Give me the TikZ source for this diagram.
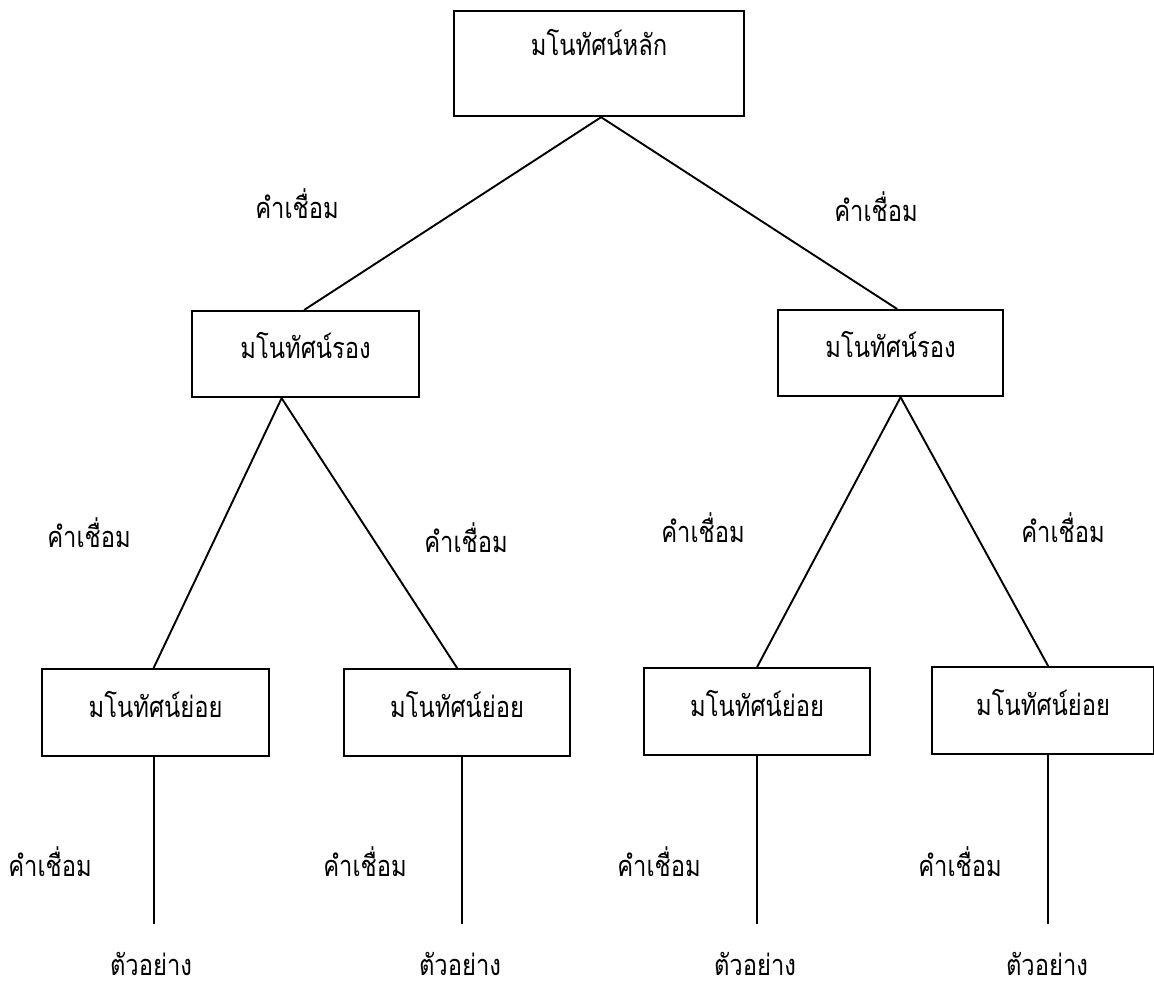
\documentclass[tikz,border=0pt]{standalone}
\usepackage{fontspec}
\newfontfamily\thai[Script=Thai,FakeStretch=0.82]{Loma}
\begin{document}
\begin{tikzpicture}[x=0.5pt,y=-0.5pt,
  box/.style={draw,line width=1.1pt,rectangle,anchor=north west,inner xsep=0pt,inner ysep=0pt,font=\thai\fontsize{14.5}{16}\selectfont},
  conn/.style={line width=0.95pt},
  lbl/.style={inner sep=0pt,font=\thai\fontsize{14.5}{16}\selectfont}]
\useasboundingbox[fill=white] (0,0) rectangle (1154,988);
% boxes
\node[box,minimum width=145pt,minimum height=52.5pt,text height=22pt,text depth=30.5pt] (top) at (453,10) {มโนทัศน์หลัก};
\node[box,minimum width=113.5pt,minimum height=43pt,text height=23.5pt,text depth=19.5pt] (midL) at (191,310) {มโนทัศน์รอง};
\node[box,minimum width=112.5pt,minimum height=43pt,text height=23.5pt,text depth=19.5pt] (midR) at (777,309) {มโนทัศน์รอง};
\node[box,minimum width=113.5pt,minimum height=43.5pt,text height=24pt,text depth=19.5pt] (b1) at (41,668) {มโนทัศน์ย่อย};
\node[box,minimum width=113pt,minimum height=43.5pt,text height=24pt,text depth=19.5pt] (b2) at (343,668) {มโนทัศน์ย่อย};
\node[box,minimum width=113pt,minimum height=43.5pt,text height=24pt,text depth=19.5pt] (b3) at (643,667) {มโนทัศน์ย่อย};
\node[box,minimum width=111pt,minimum height=43.5pt,text height=24pt,text depth=19.5pt] (b4) at (931,666) {มโนทัศน์ย่อย};
% connectors
\draw[conn] ([xshift=1pt]top.south) -- ([xshift=-0.75pt]midL.north);
\draw[conn] ([xshift=1pt]top.south) -- ([xshift=3.25pt]midR.north);
\draw[conn] ([xshift=-12pt]midL.south) -- ([xshift=-1pt]b1.north);
\draw[conn] ([xshift=-12pt]midL.south) -- (b2.north);
\draw[conn] ([xshift=5pt]midR.south) -- (b3.north);
\draw[conn] ([xshift=5pt]midR.south) -- ([xshift=2.5pt]b4.north);
\coordinate (base) at (0,924);
\coordinate (e1) at ([xshift=-1pt]b1.south |- base);
\coordinate (e2) at ([xshift=2.5pt]b2.south |- base);
\coordinate (e3) at (b3.south |- base);
\coordinate (e4) at ([xshift=2.5pt]b4.south |- base);
\draw[conn] ([xshift=-1pt]b1.south) -- (e1);
\draw[conn] ([xshift=2.5pt]b2.south) -- (e2);
\draw[conn] (b3.south) -- (e3);
\draw[conn] ([xshift=2.5pt]b4.south) -- (e4);
% link words
\node[lbl] (k1) at (297,204) {คำเชื่อม};
\node[lbl] (k2) at (876,207) {คำเชื่อม};
\node[lbl] (k3) at (89,533) {คำเชื่อม};
\node[lbl] (k4) at (466,538) {คำเชื่อม};
\node[lbl] (k5) at (703,528) {คำเชื่อม};
\node[lbl] (k6) at (1063,528) {คำเชื่อม};
\node[lbl] (k7) at (50,862) {คำเชื่อม};
\node[lbl] (k8) at (365,862) {คำเชื่อม};
\node[lbl] (k9) at (659,862) {คำเชื่อม};
\node[lbl] (k10) at (960,862) {คำเชื่อม};
% examples
\node[lbl] (x1) at (151,964) {ตัวอย่าง};
\node[lbl] (x2) at (460,964) {ตัวอย่าง};
\node[lbl] (x3) at (755,964) {ตัวอย่าง};
\node[lbl] (x4) at (1047,964) {ตัวอย่าง};
\end{tikzpicture}
\end{document}
